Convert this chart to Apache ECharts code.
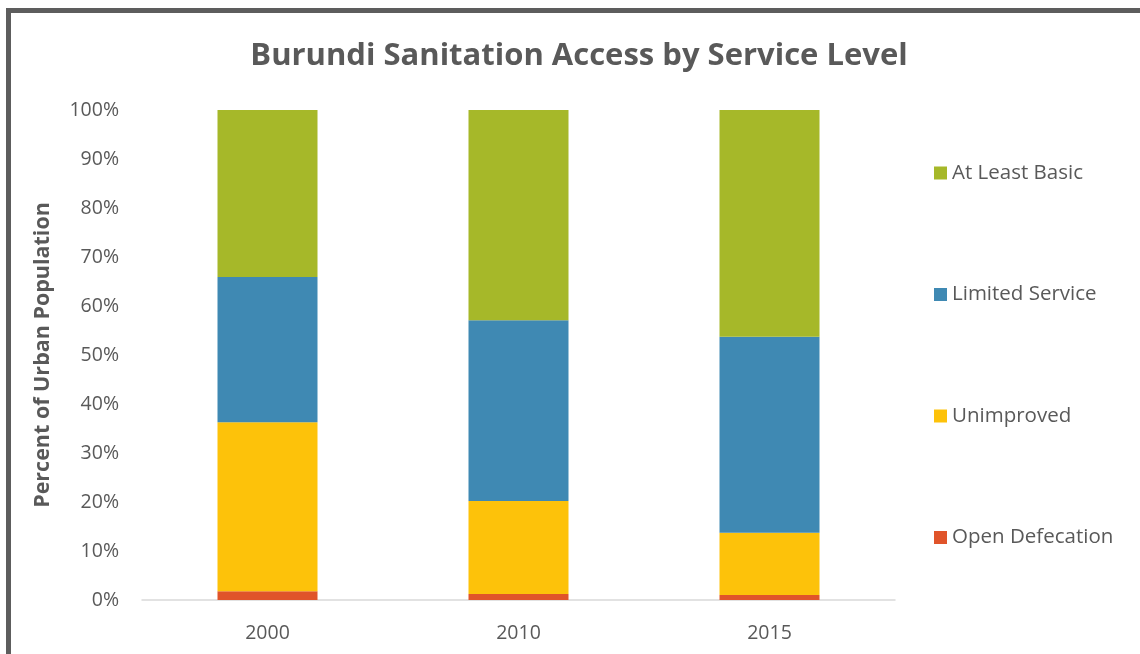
<!DOCTYPE html>
<html>
<head>
<meta charset="utf-8">
<script src="https://cdn.jsdelivr.net/npm/echarts@6/dist/echarts.min.js"></script>
<style>
html,body{margin:0;padding:0;background:#fff;}
#chart{width:1140px;height:654px;}
</style>
</head>
<body>
<div id="chart"></div>
<script>
const years = ['2000', '2010', '2015'];
const openDefecation = [1.8, 1.2, 1.0];
const unimproved = [34.5, 19.0, 12.7];
const limitedService = [29.6, 36.9, 40.0];
const atLeastBasic = [34.1, 42.9, 46.3];
const seriesNames = ['Open Defecation', 'Unimproved', 'Limited Service', 'At Least Basic'];
const seriesColors = ['#E0542A', '#FDC20A', '#3F89B3', '#A6B829'];
const seriesValues = [openDefecation, unimproved, limitedService, atLeastBasic];

const FONT = '"Open Sans", "Noto Sans", sans-serif';
const chart = echarts.init(document.getElementById('chart'));
chart.setOption({
  animation: false,
  backgroundColor: '#ffffff',
  textStyle: { fontFamily: FONT },
  graphic: [{
    type: 'rect',
    shape: { x: 8.5, y: 10.5, width: 1300, height: 800 },
    style: { fill: 'none', stroke: '#5d5d5d', lineWidth: 5 },
    silent: true,
    z: 100
  }],
  title: {
    text: 'Burundi Sanitation Access by Service Level',
    left: 574,
    top: 36,
    textAlign: 'center',
    textStyle: { fontFamily: FONT, fontSize: 31, fontWeight: 'bold', color: '#595959' }
  },
  legend: {
    orient: 'vertical',
    left: 929,
    top: 157,
    itemWidth: 13,
    itemHeight: 13,
    itemGap: 99.5,
    icon: 'rect',
    data: ['At Least Basic', 'Limited Service', 'Unimproved', 'Open Defecation'],
    textStyle: { fontFamily: FONT, fontSize: 20.5, color: '#595959', lineHeight: 22 }
  },
  grid: { left: 142, right: 245, top: 110, bottom: 54, containLabel: false },
  xAxis: {
    type: 'category',
    data: years,
    axisLine: { lineStyle: { color: '#d9d9d9', width: 1.5 } },
    axisTick: { show: false },
    axisLabel: { fontFamily: FONT, fontSize: 19.5, color: '#595959', margin: 23 }
  },
  yAxis: {
    type: 'value',
    min: 0,
    max: 100,
    interval: 10,
    name: 'Percent of Urban Population',
    nameLocation: 'middle',
    nameGap: 88,
    nameTextStyle: { fontFamily: FONT, fontSize: 21.5, fontWeight: 'bold', color: '#595959' },
    splitLine: { show: false },
    axisLine: { show: false },
    axisTick: { show: false },
    axisLabel: { fontFamily: FONT, fontSize: 19.5, color: '#595959', margin: 23, formatter: '{value}%' }
  },
  series: seriesNames.map((name, i) => ({
    name: name,
    type: 'bar',
    stack: 'total',
    barWidth: 100,
    data: seriesValues[i],
    itemStyle: { color: seriesColors[i] }
  }))
});
</script>
</body>
</html>
